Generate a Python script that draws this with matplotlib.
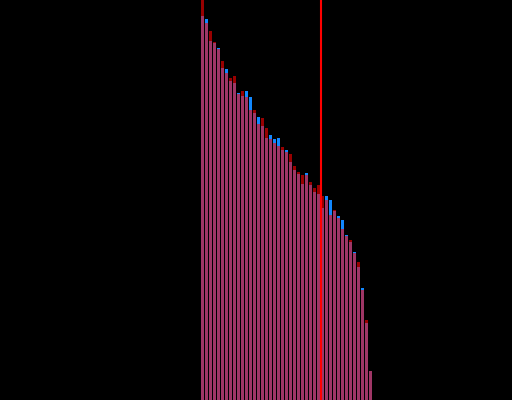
import numpy as np
import matplotlib
matplotlib.use("Agg")
import matplotlib.pyplot as plt

# values (sorted, two overlapping series)
red_series = [400, 377, 369, 358, 351, 339, 327, 322, 324, 306, 309, 303, 290, 290, 276,
              282, 272, 261, 257, 254, 253, 248, 246, 234, 228, 225, 225, 218, 212, 215,
              204, 200, 185, 190, 182, 171, 164, 160, 147, 138, 110, 80, 29]
blue_series = [384, 381, 359, 357, 352, 332, 331, 319, 317, 307, 304, 309, 303, 287, 283,
               274, 262, 265, 261, 262, 250, 250, 238, 230, 226, 216, 227, 215, 208, 206,
               192, 204, 200, 189, 184, 180, 165, 158, 148, 133, 112, 77, 29]
marker_x = 29.875

x = np.arange(len(red_series))

fig = plt.figure(figsize=(5.12, 4.0), dpi=100, facecolor="black")
ax = fig.add_axes([0, 0, 1, 1])
ax.set_facecolor("black")
ax.bar(x, blue_series, width=0.75, align="edge", color="#1188ff", linewidth=0, antialiased=False)
ax.bar(x, red_series, width=0.75, align="edge", color="#ff0000", alpha=0.6, linewidth=0, antialiased=False)
ax.axvline(marker_x, color="#ff0000", linewidth=1.5)
ax.set_xlim(-50.25, 77.75)
ax.set_ylim(0, 400)
ax.axis("off")
fig.savefig("out.png", dpi=100, facecolor="black")
